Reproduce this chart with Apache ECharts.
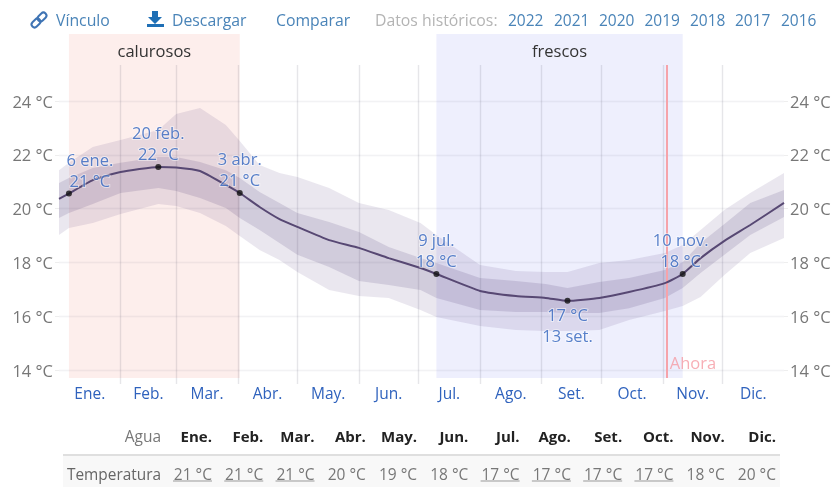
<!DOCTYPE html>
<html>
<head>
<meta charset="utf-8">
<style>
html,body{margin:0;padding:0;background:#fff}
#chart{width:836px;height:487px;filter:blur(0.45px)}
</style>
<script src="https://cdn.jsdelivr.net/npm/echarts@6/dist/echarts.min.js"></script>
</head>
<body>
<div id="chart"></div>
<script>
// ---- data ----
const days = [0,5,17,31,50,59,71,84,91,101,111,120,136,151,166,182,190,212,230,245,256,272,287,305,314,323,335,348,365];
const mean = [20.36,20.56,21.06,21.36,21.55,21.53,21.40,20.88,20.58,20.06,19.61,19.32,18.83,18.54,18.16,17.79,17.57,16.94,16.75,16.68,16.57,16.68,16.90,17.23,17.57,18.16,18.80,19.39,20.21];
const p75 = [20.95,21.14,21.51,21.70,21.92,21.92,21.73,21.43,21.14,20.62,20.21,19.84,19.50,19.13,18.57,18.16,17.98,17.42,17.31,17.20,17.05,17.27,17.42,17.72,18.01,18.72,19.43,20.21,20.69];
const p25 = [19.65,19.84,20.17,20.58,20.77,20.65,20.39,20.02,19.65,19.20,18.72,18.28,17.83,17.31,17.16,16.97,16.68,16.23,16.16,16.16,16.12,16.12,16.30,16.68,17.05,17.61,18.28,19.02,19.69];
const p90 = [21.43,21.70,22.29,22.55,22.92,23.52,23.74,23.11,22.51,21.62,21.32,21.17,20.77,20.21,19.95,19.46,19.02,17.90,17.68,17.64,17.64,17.98,18.09,18.35,18.65,19.20,19.95,20.58,21.32];
const p10 = [19.02,19.28,19.46,19.80,20.17,20.10,19.84,19.35,18.98,18.46,18.09,17.64,16.97,16.75,16.68,16.23,15.97,15.64,15.49,15.45,15.45,15.49,15.86,16.19,16.38,16.71,17.53,18.35,18.91];

const monthNames = ['Ene.','Feb.','Mar.','Abr.','May.','Jun.','Jul.','Ago.','Set.','Oct.','Nov.','Dic.'];
const monthStarts = [0,31,59,90,120,151,181,212,243,273,304,334,365];
const yTicks = [14,16,18,20,22,24];
const yMin = 13.48, yMax = 26.49, lineTop = 25.34, bandBottom = 13.7;

const hotBand = {name:'calurosos', from:5, to:91};
const coolBand = {name:'frescos', from:190, to:314};
const nowDay = 306, nowLabelY = 14.2, nowLabel = 'Ahora';

const keyPoints = [
  {day:5,   value:20.56, text:'6 ene.\n21 °C',  pos:'top', dx:21},
  {day:50,  value:21.55, text:'20 feb.\n22 °C', pos:'top', dx:0},
  {day:91,  value:20.58, text:'3 abr.\n21 °C',  pos:'top', dx:0},
  {day:190, value:17.57, text:'9 jul.\n18 °C',  pos:'top', dx:0},
  {day:256, value:16.57, text:'17 °C\n13 set.', pos:'bottom', dx:0},
  {day:314, value:17.57, text:'10 nov.\n18 °C', pos:'top', dx:-2}
];

const toolbarLinks = ['Vínculo','Descargar','Comparar'];
const historyLabel = 'Datos históricos:';
const years = ['2022','2021','2020','2019','2018','2017','2016'];
const rowHeader = 'Agua', rowLabel = 'Temperatura';
const tableTemps = ['21 °C','21 °C','21 °C','20 °C','19 °C','18 °C','17 °C','17 °C','17 °C','17 °C','18 °C','20 °C'];
const underlined = [1,1,1,0,0,0,1,1,1,1,0,0];

// ---- chart ----
const FONT = '"Open Sans", "Noto Sans", sans-serif';
const SIZE = 15.5, CHART_SIZE = 16.5;
const BLUE = '#2f62bd', LINK = '#4a84b8';
const pair = (a) => days.map((d,i)=>[d,a[i]]);

function bandSeries(lo, hi, color){
  return {type:'custom',silent:true,z:3,clip:false,
    data:days.map((d,i)=>[d,lo[i],hi[i]]),
    encode:{x:0,y:[1,2]},
    renderItem(params,api){
      if(params.dataIndex!==0) return null;
      const upper = days.map((d,i)=>api.coord([d,hi[i]]));
      const lower = days.map((d,i)=>api.coord([d,lo[i]])).reverse();
      return {type:'polygon',shape:{points:upper.concat(lower)},style:{fill:color}};
    }};
}

const monthMid = monthNames.map((_,i)=>(monthStarts[i]+monthStarts[i+1])/2);
const monthLines = monthStarts.slice(1,-1).map(d=>[{coord:[d,yMin]},{coord:[d,lineTop]}]);
const tickLines = yTicks.map(t=>[
  {coord:[0,t],lineStyle:{color:'rgba(90,85,110,0.08)',width:1.4}},
  {coord:[365,t],lineStyle:{color:'rgba(90,85,110,0.08)',width:1.4}}
]);

const colRight = i => 212 + i*51.27;
const graphics = [];
const txt = (x,y,text,fill,align,size,weight)=>graphics.push({type:'text',x,y,silent:true,style:{
  text,fill,align:align||'left',verticalAlign:'middle',font:(weight||'normal')+' '+(size||SIZE)+'px '+FONT}});

[56,172,276].forEach((x,i)=>txt(x,21.5,toolbarLinks[i],LINK,'left',15.8));
txt(375,21.5,historyLabel,'#b4b4b4','left',15.8);
[508,554,599,644.5,690,735,781].forEach((x,i)=>txt(x,21.5,years[i],LINK));

// link icon: two interlocked rounded links, rotated
[[36,23],[42,17]].forEach(([x,y])=>graphics.push({type:'rect',silent:true,x,y,rotation:Math.PI/4,
  originX:0,originY:0,shape:{x:-5,y:-3,width:10,height:6,r:3},
  style:{fill:'none',stroke:'#3f74b4',lineWidth:2}}));
// download icon
graphics.push({type:'polygon',silent:true,shape:{points:[[152,11],[158,11],[158,17],[162,17],[155,24],[148,17],[152,17]]},style:{fill:'#1f6fb5'}});
graphics.push({type:'rect',silent:true,shape:{x:147,y:24,width:17,height:3},style:{fill:'#1f6fb5'}});

graphics.push({type:'rect',silent:true,z:-1,shape:{x:63,y:456,width:717,height:31},style:{fill:'#f8f8f8'}});
graphics.push({type:'line',silent:true,shape:{x1:63,y1:455,x2:780,y2:455},style:{stroke:'#dfdfdf',lineWidth:2}});
txt(161,437.5,rowHeader,'#777','right');
txt(161,475.5,rowLabel,'#666','right',15.4);
monthNames.forEach((m,i)=>{
  txt(colRight(i),437.5,m,'#222','right',15,'bold');
  txt(colRight(i),475.5,tableTemps[i],'#777','right');
  if(underlined[i]) graphics.push({type:'line',silent:true,shape:{x1:colRight(i)-39,y1:481,x2:colRight(i),y2:481},style:{stroke:'#999',lineWidth:1}});
});

const yAxisBase = {
  type:'value',min:yMin,max:yMax,
  axisLine:{show:false},
  axisTick:{show:true,length:4,customValues:yTicks,lineStyle:{color:'#eeeeee'}},
  splitLine:{show:false},
  axisLabel:{customValues:yTicks,margin:6,formatter:v=>'{t|'+v+' °C}',
    rich:{t:{color:'#777',fontFamily:FONT,fontSize:CHART_SIZE,padding:[4,0,0,0]}}}
};

const bandLabel = {show:true,position:'insideTop',distance:10,color:'#333',fontFamily:FONT,fontSize:CHART_SIZE};

const option = {
  animation:false,
  textStyle:{fontFamily:FONT},
  grid:{left:59,right:52,top:34,bottom:103},
  xAxis:{type:'value',min:0,max:365,
    axisLine:{show:false},axisTick:{show:false},splitLine:{show:false},
    axisLabel:{customValues:monthMid,color:BLUE,fontFamily:FONT,fontSize:SIZE,margin:3,
      formatter:v=>monthNames[monthMid.indexOf(v)]}},
  yAxis:[Object.assign({},yAxisBase,{position:'left'}),Object.assign({},yAxisBase,{position:'right'})],
  graphic:graphics,
  series:[
    {type:'line',data:[],silent:true,z:1,
      markArea:{silent:true,z:1,data:[
        [{xAxis:hotBand.from,yAxis:bandBottom,name:hotBand.name,itemStyle:{color:'#fdeeec'},label:bandLabel},
         {xAxis:hotBand.to,yAxis:yMax}],
        [{xAxis:coolBand.from,yAxis:bandBottom,name:coolBand.name,itemStyle:{color:'#eeeffd'},label:bandLabel},
         {xAxis:coolBand.to,yAxis:yMax}]
      ]}},
    {type:'line',data:[],silent:true,z:2,
      markLine:{silent:true,symbol:'none',z:2,label:{show:false},
        lineStyle:{color:'rgba(90,85,110,0.15)',width:1.4,type:'solid'},
        data:monthLines.concat(tickLines)}},
    bandSeries(p10,p90,'rgba(70,45,110,0.115)'),
    bandSeries(p25,p75,'rgba(70,45,110,0.15)'),
    {type:'line',data:pair(mean),symbol:'none',smooth:0.15,silent:true,z:5,
      lineStyle:{color:'#574873',width:2}},
    {type:'line',data:[],silent:true,z:6,
      markLine:{silent:true,symbol:'none',label:{show:false},
        lineStyle:{color:'#f6a3aa',width:2,type:'solid'},
        data:[[{coord:[nowDay,bandBottom]},{coord:[nowDay,lineTop]}]]}},
    {type:'scatter',silent:true,z:7,symbolSize:0,data:[[nowDay,nowLabelY]],
      label:{show:true,position:'right',distance:3,formatter:nowLabel,color:'#f59aa2',fontFamily:FONT,fontSize:CHART_SIZE}},
    {type:'scatter',silent:true,z:8,symbolSize:6,itemStyle:{color:'#111'},
      data:keyPoints.map(p=>({value:[p.day,p.value],
        label:{show:true,position:p.pos,distance:p.pos==='top'?-2:2,offset:[p.dx,0],formatter:p.text,lineHeight:21,
          color:BLUE,fontFamily:FONT,fontSize:CHART_SIZE,textBorderColor:'rgba(255,255,255,0.6)',textBorderWidth:2}}))}
  ]
};
echarts.init(document.getElementById('chart'),null,{renderer:'canvas'}).setOption(option);
</script>
</body>
</html>
